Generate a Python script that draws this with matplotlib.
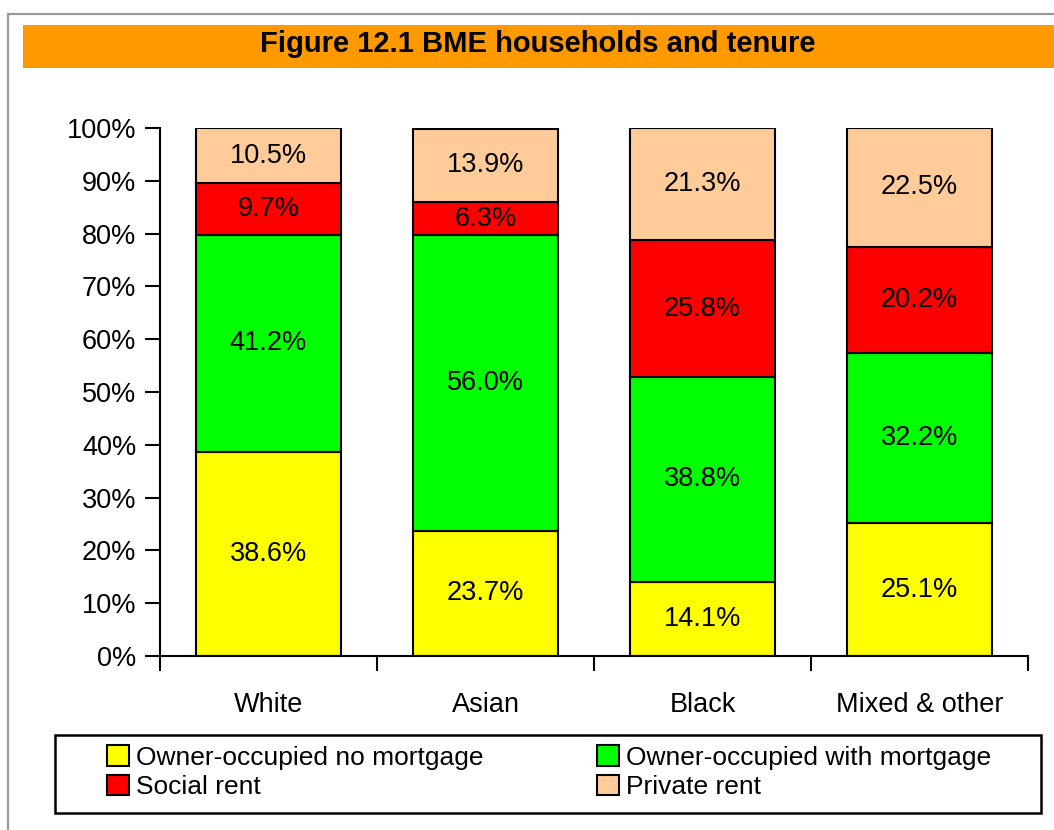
import matplotlib.pyplot as plt
from matplotlib.patches import Rectangle

plt.rcParams['font.family'] = ['Liberation Sans', 'DejaVu Sans']

groups = ['White', 'Asian', 'Black', 'Mixed & other']
series = ['Owner-occupied no mortgage', 'Owner-occupied with mortgage',
          'Social rent', 'Private rent']
no_mortgage = [38.6, 23.7, 14.1, 25.1]
with_mortgage = [41.2, 56.0, 38.8, 32.2]
social_rent = [9.7, 6.3, 25.8, 20.2]
private_rent = [10.5, 13.9, 21.3, 22.5]
colors = ['#FFFF00', '#00FF00', '#FF0000', '#FFCC99']

W, H = 1054, 830
FS = 19.5
fig = plt.figure(figsize=(W / 100, H / 100), dpi=100)

# grey frame round the figure (runs off the right and bottom edges)
fig.add_artist(Rectangle((8 / W, -0.1), 1.2, 1 - 14 / H + 0.1, transform=fig.transFigure,
                         fill=False, edgecolor='#999999', lw=1.6))
# orange title band
fig.add_artist(Rectangle((23 / W, 1 - 68 / H), 1.0, 43 / H, transform=fig.transFigure,
                         facecolor='#FF9900', edgecolor='none'))
fig.text(538 / W, 1 - 44 / H, 'Figure 12.1 BME households and tenure',
         ha='center', va='center', fontsize=21, fontweight='bold')

ax = fig.add_axes([160 / W, 1 - 656 / H, 868 / W, 528 / H])
x = list(range(len(groups)))
bottom = [0] * len(groups)
handles = []
for vals, c, name in zip([no_mortgage, with_mortgage, social_rent, private_rent], colors, series):
    bars = ax.bar(x, vals, 0.664, bottom=bottom, color=c, edgecolor='black', lw=1.5, label=name)
    handles.append(bars)
    for xi, v, b in zip(x, vals, bottom):
        ax.text(xi, b + v / 2, f'{v:.1f}%', ha='center', va='center', fontsize=FS)
    bottom = [b + v for b, v in zip(bottom, vals)]

ax.set_xlim(-0.5, len(groups) - 0.5)
ax.set_ylim(0, 100)
ax.set_yticks(range(0, 101, 10))
ax.set_yticklabels([f'{t}%' for t in range(0, 101, 10)])
ax.set_xticks(x)
ax.set_xticklabels(groups)
ax.set_xticks([i - 0.5 for i in range(len(groups) + 1)], minor=True)
ax.tick_params(axis='x', which='major', length=0, pad=26, labelsize=FS)
ax.tick_params(axis='x', which='minor', length=11, width=1.5, direction='out')
ax.tick_params(axis='y', length=11, width=1.5, labelsize=FS, pad=6)
for s in ['top', 'right']:
    ax.spines[s].set_visible(False)
for s in ['left', 'bottom']:
    ax.spines[s].set_linewidth(1.5)

# legend frame
fig.add_artist(Rectangle((55 / W, 1 - 813 / H), 986 / W, 78 / H, transform=fig.transFigure,
                         fill=False, edgecolor='black', lw=1.8))
order = [0, 2, 1, 3]
leg = fig.legend([handles[i] for i in order], [series[i] for i in order], ncol=2,
                 loc='upper left', bbox_to_anchor=(107 / W, 1 - 745 / H),
                 fontsize=19, frameon=False, handlelength=0.83, handleheight=0.83,
                 handletextpad=0.27, labelspacing=0.2, borderpad=0,
                 borderaxespad=0, columnspacing=4.3)

fig.savefig('out.png', dpi=100)
